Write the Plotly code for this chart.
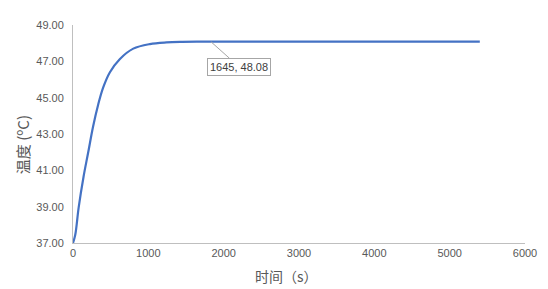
import plotly.graph_objects as go

# time (s) and temperature (ºC)
time_s = [0, 30, 75, 140, 200, 266, 333, 400, 490, 620, 800, 1020,
          1240, 1450, 1645, 2000, 3000, 4000, 5000, 5400]
temp_c = [37.00, 37.45, 38.95, 40.65, 41.95, 43.40, 44.60, 45.55, 46.40, 47.12,
          47.70, 47.95, 48.04, 48.07, 48.08, 48.08, 48.08, 48.08, 48.08, 48.08]

x_ticks = [0, 1000, 2000, 3000, 4000, 5000, 6000]
y_ticks = [37, 39, 41, 43, 45, 47, 49]

label_t = 1645
label_v = 48.08

num_font = "Liberation Sans, Arial, sans-serif"
cjk_font = "Noto Sans CJK SC, sans-serif"
axis_grey = "#BFBFBF"
text_grey = "#595959"

fig = go.Figure()
fig.add_trace(go.Scatter(
    x=time_s, y=temp_c, mode="lines",
    line=dict(color="#4472C4", width=2.2, shape="spline", smoothing=1.0),
    hoverinfo="x+y", showlegend=False,
))

fig.add_annotation(
    x=label_t, y=label_v, xref="x", yref="y",
    text=f"{label_t}, {label_v:.2f}",
    showarrow=True, arrowhead=0, arrowwidth=1, arrowcolor="#A6A6A6",
    ax=28, ay=25, xshift=14,
    bgcolor="white", bordercolor="#A6A6A6", borderwidth=1, borderpad=2,
    font=dict(family=num_font, size=11, color="#404040"),
)

# axis titles
fig.add_annotation(
    text="时间（s）", xref="paper", yref="paper", x=0.473, y=-0.151,
    xanchor="center", yanchor="middle", showarrow=False,
    font=dict(family=cjk_font, size=14, color=text_grey),
)
fig.add_annotation(
    text="温度 (ºC)", xref="paper", yref="paper", x=-0.11, y=0.45,
    xanchor="center", yanchor="middle", showarrow=False, textangle=-90,
    font=dict(family=cjk_font, size=15, color=text_grey),
)

fig.update_layout(
    width=548, height=289,
    margin=dict(l=73, r=23, t=25, b=46),
    paper_bgcolor="white", plot_bgcolor="white",
    xaxis=dict(
        range=[0, 6000], tickvals=x_ticks, ticktext=[str(v) for v in x_ticks],
        showgrid=False, zeroline=False, showline=True, linecolor=axis_grey, linewidth=1,
        ticks="", tickfont=dict(family=num_font, size=11, color=text_grey),
        automargin=False,
    ),
    yaxis=dict(
        range=[37, 49], tickvals=y_ticks, ticktext=[f"{v:.2f}" for v in y_ticks],
        showgrid=False, zeroline=False, showline=True, linecolor=axis_grey, linewidth=1,
        ticks="", tickfont=dict(family=num_font, size=11, color=text_grey),
        ticklabelstandoff=6, automargin=False,
    ),
)

fig.write_html("out.html")
